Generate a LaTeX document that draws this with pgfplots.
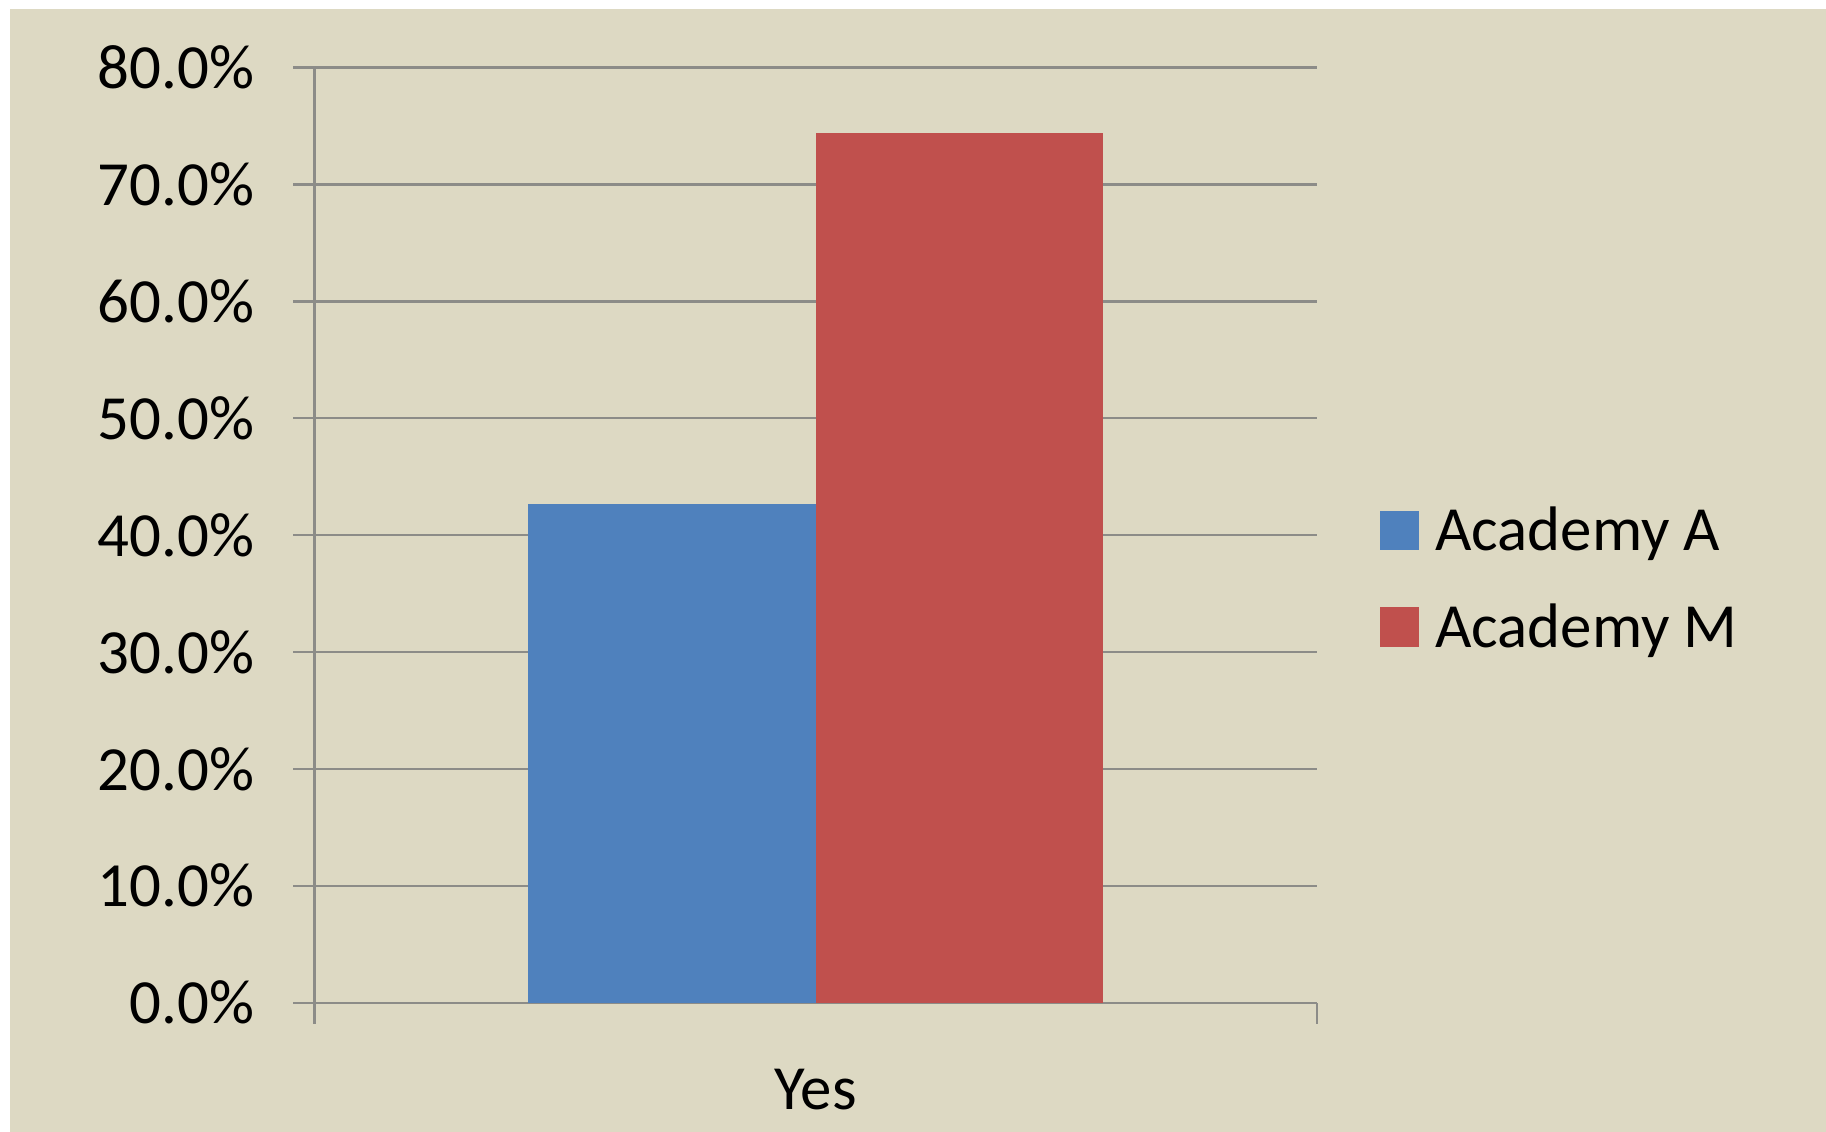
\documentclass[border=0pt]{standalone}
\usepackage{fontspec}
\setmainfont{Carlito}
\usepackage{pgfplots}
\pgfplotsset{compat=1.18}
\definecolor{bgtan}{HTML}{DDD9C3}
\definecolor{gridgray}{RGB}{140,140,136}
\definecolor{barblue}{HTML}{4F81BD}
\definecolor{barred}{HTML}{C0504D}
\newcommand{\chartfont}{\fontsize{16.2}{19.4}\selectfont}

\begin{document}
\begin{tikzpicture}
% chart area
\fill[white] (-81pt,-33.3pt) rectangle (389.4pt,258.3pt);
\fill[bgtan] (-78.3pt,-33.3pt) rectangle (389.4pt,255.9pt);
\begin{axis}[
  scale only axis,
  width=258.3pt, height=240.9pt,
  at={(0,0)}, anchor=south west,
  ybar=0pt, bar width=74.1pt,
  xmin=-0.5, xmax=0.5, ymin=0, ymax=80,
  enlargelimits=false,
  axis x line*=bottom, axis y line*=left,
  axis line style={draw=gridgray, line width=0.6pt, -},
  tick align=outside,
  major tick length=5.4pt,
  every tick/.style={draw=gridgray, line width=0.6pt},
  ytick={0,10,...,80},
  ymajorgrids,
  grid style={draw=gridgray, line width=0.6pt},
  xtick={-0.5,0.5}, xticklabels={},
  extra x ticks={0}, extra x tick labels={Yes},
  extra x tick style={major tick length=0pt, xticklabel style={yshift=-13.5pt}},
  /pgf/number format/assume math mode=true,
  yticklabel={\pgfmathprintnumber[fixed,fixed zerofill,precision=1]{\tick}\%},
  yticklabel style={xshift=-6.6pt},
  tick label style={font=\chartfont, text=black},
  legend cell align=left,
  legend style={
    at={(1.0499,0.4521)}, anchor=west,
    draw=none, fill=none,
    font=\chartfont,
    row sep=8.2pt,
    /tikz/every odd column/.append style={column sep=2.1pt},
  },
]
\addplot[fill=barblue, draw=none,
  legend image code/.code={\fill[barblue] (0pt,-4.8pt) rectangle (10.2pt,5.4pt);}]
  coordinates {(0,42.7)};
\addplot[fill=barred, draw=none,
  legend image code/.code={\fill[barred] (0pt,-4.8pt) rectangle (10.2pt,5.4pt);}]
  coordinates {(0,74.4)};
\legend{Academy A, Academy M}
\end{axis}
\pgfresetboundingbox
\useasboundingbox (-81pt,-33.3pt) rectangle (389.4pt,258.3pt);
\end{tikzpicture}
\end{document}
